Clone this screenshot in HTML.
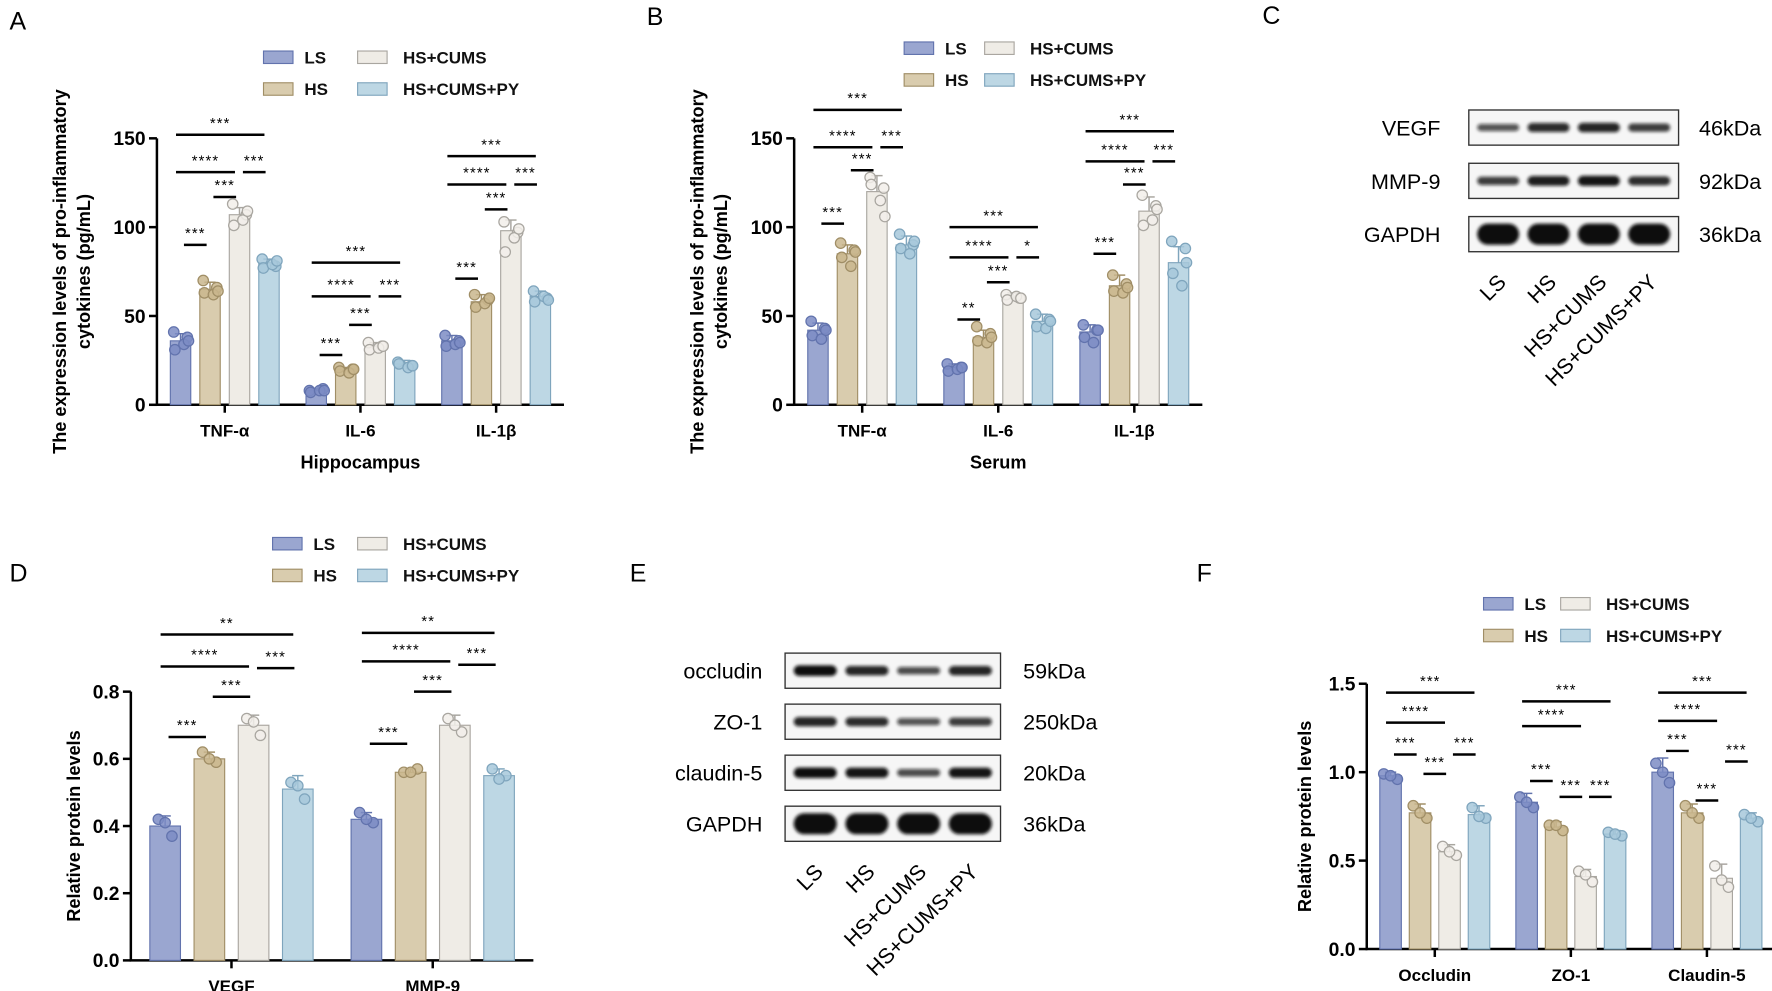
<!DOCTYPE html>
<html><head><meta charset="utf-8">
<style>
html,body{margin:0;padding:0;background:#fff;}
svg{display:block;font-family:"Liberation Sans",Arial,sans-serif;}
</style></head>
<body>
<svg id="fig" width="1772" height="991" viewBox="0 0 1562 874" xmlns="http://www.w3.org/2000/svg">
<defs><filter id="blur" x="-20%" y="-50%" width="140%" height="200%"><feGaussianBlur stdDeviation="1.4"/></filter></defs>
</svg>
<script>
// ---------- data ----------
const groups = ['LS','HS','HS+CUMS','HS+CUMS+PY'];
const catsCyt = ['TNF-α','IL-6','IL-1β'];
const catsProt = ['VEGF','MMP-9'];
const catsTJ = ['Occludin','ZO-1','Claudin-5'];

const aMeans = [[36,65,107,80],[8,20,33,23],[36,58,98,61]];
const aErr   = [[4,4,4,2],[1,1,2,2],[3,4,6,3]];
const aPts   = [[[41,38,31,34,36],[70,66,63,62,64],[113,107,101,104,109],[82,78,77,79,81]],
                [[8,9,7,8,8],[21,20,19,18,20],[35,33,31,32,33],[24,22,23,21,22]],
                [[39,36,33,34,35],[62,59,55,57,60],[103,97,86,94,99],[64,60,58,61,59]]];
const aSig = [[[0,1,90,'***'],[1,2,117,'***'],[0,2,131,'****'],[2,3,131,'***'],[0,3,152,'***']],
              [[0,1,28,'***'],[1,2,45,'***'],[0,2,61,'****'],[2,3,61,'***'],[0,3,80,'***']],
              [[0,1,71,'***'],[1,2,110,'***'],[0,2,124,'****'],[2,3,124,'***'],[0,3,140,'***']]];
const aTicks = [0,50,100,150];

const bMeans = [[42,85,120,90],[21,38,60,47],[41,67,109,80]];
const bErr   = [[4,5,9,5],[2,4,3,4],[4,6,8,9]];
const bPts   = [[[47,43,39,37,42],[91,87,83,78,86],[128,122,124,115,106],[96,90,88,85,92]],
                [[23,21,19,20,21],[44,40,36,35,38],[62,60,59,61,60],[51,48,44,43,47]],
                [[45,42,38,35,42],[73,68,64,63,66],[118,112,101,104,110],[92,88,74,67,80]]];
const bSig = [[[0,1,102,'***'],[1,2,132,'***'],[0,2,145,'****'],[2,3,145,'***'],[0,3,166,'***']],
              [[0,1,48,'**'],[1,2,69,'***'],[0,2,83,'****'],[2,3,83,'*'],[0,3,100,'***']],
              [[0,1,85,'***'],[1,2,124,'***'],[0,2,137,'****'],[2,3,137,'***'],[0,3,154,'***']]];
const bTicks = [0,50,100,150];

const dMeans = [[0.40,0.60,0.70,0.51],[0.42,0.56,0.70,0.55]];
const dErr   = [[0.03,0.02,0.03,0.04],[0.02,0.01,0.03,0.02]];
const dPts   = [[[0.42,0.37,0.41],[0.62,0.59,0.60],[0.72,0.67,0.71]],[[0.44,0.41,0.42],[0.56,0.57,0.56],[0.72,0.68,0.70]]];
const dPts4  = [[0.53,0.48,0.52],[0.57,0.55,0.54]];
const dSig = [[[0,1,0.665,'***'],[1,2,0.785,'***'],[0,2,0.875,'****'],[2,3,0.87,'***'],[0,3,0.97,'**']],
              [[0,1,0.645,'***'],[1,2,0.80,'***'],[0,2,0.89,'****'],[2,3,0.88,'***'],[0,3,0.975,'**']]];
const dTicks = [0.0,0.2,0.4,0.6,0.8];

const fMeans = [[0.98,0.77,0.55,0.76],[0.83,0.69,0.41,0.65],[1.00,0.77,0.40,0.74]];
const fErr   = [[0.02,0.05,0.04,0.05],[0.05,0.03,0.04,0.02],[0.08,0.05,0.08,0.03]];
const fPts   = [[[0.99,0.96,0.98],[0.81,0.74,0.77],[0.58,0.53,0.55]],
                [[0.86,0.80,0.83],[0.70,0.67,0.70],[0.44,0.38,0.42]],
                [[1.05,0.94,1.00],[0.81,0.74,0.77],[0.47,0.35,0.39]]];
const fPts4  = [[0.80,0.74,0.75],[0.66,0.64,0.65],[0.76,0.72,0.74]];
const fSig = [[[0,1,1.10,'***'],[1,2,0.99,'***'],[0,2,1.28,'****'],[2,3,1.10,'***'],[0,3,1.45,'***']],
              [[0,1,0.95,'***'],[1,2,0.86,'***'],[0,2,1.26,'****'],[2,3,0.86,'***'],[0,3,1.40,'***']],
              [[0,1,1.12,'***'],[1,2,0.84,'***'],[0,2,1.29,'****'],[2,3,1.06,'***'],[0,3,1.45,'***']]];
const fTicks = [0.0,0.5,1.0,1.5];

const cBands = [[0.55,0.8,0.85,0.7],[0.7,0.9,0.95,0.8],[1,1,1,1]];
const cRows = ['VEGF','MMP-9','GAPDH'];
const cKda = ['46kDa','92kDa','36kDa'];
const eBands = [[1,0.85,0.6,0.85],[0.85,0.8,0.55,0.7],[1,0.95,0.6,0.95],[1,1,1,1]];
const eRows = ['occludin','ZO-1','claudin-5','GAPDH'];
const eKda = ['59kDa','250kDa','20kDa','36kDa'];

const fills = ['#9aa6d0','#d9ccae','#efece6','#bdd7e4'];
const strokes = ['#6273ad','#a08e66','#a9a6a0','#7fa5bd'];
const ptFill = ['#7d8cc4','#c9b68d','#f2efea','#a7c8da'];

// ---------- helpers ----------
const svg = document.getElementById('fig');
const NS = 'http://www.w3.org/2000/svg';
function el(tag, attrs, parent){ const e=document.createElementNS(NS,tag); for(const k in attrs) e.setAttribute(k,attrs[k]); (parent||svg).appendChild(e); return e; }
function txt(s, attrs, parent){ const t=el('text',attrs,parent); t.textContent=s; return t; }

function panelLetter(s,x,y){
  const t=txt(s,{x:x,y:y,'font-size':22});
  
  
}

function legend(name,x,y,dx,dy){
  const g=el('g',{});
  
  
  groups.forEach((gname,i)=>{
    const col=Math.floor(i/2), row=i%2;
    const lx=x+col*dx, ly=y+row*dy;
    const e=el('g',{},g);
    
    
    el('rect',{x:lx,y:ly-5,width:26,height:11,fill:fills[i],stroke:strokes[i],'stroke-width':1},e);
    txt(gname,{x:lx+(col?40:36),y:ly+6,'font-size':15,'font-weight':'bold',fill:'#111'},e);
  });
}

function barChart(o){
  const g=el('g',{});
  
  
  const yMax=o.ticks[o.ticks.length-1];
  const ys=v=>o.y0-(v/yMax)*(o.y0-o.yTop);
  const gw=(o.x1-o.x0)/o.cats.length;
  const gc=i=>o.x0+gw*(i+0.5);
  const bx=(i,j)=>gc(i)+(j-1.5)*o.sp;
  const ax=el('g',{},g);  
  el('line',{x1:o.x0,y1:o.y0+1,x2:o.x0,y2:o.yTop,stroke:'#000','stroke-width':2.2},ax);
  o.ticks.forEach(t=>{
    el('line',{x1:o.x0-7,y1:ys(t),x2:o.x0,y2:ys(t),stroke:'#000','stroke-width':2.2},ax);
    const tl=txt(o.fmt(t),{x:o.x0-10,y:ys(t)+6,'text-anchor':'end','font-size':17,'font-weight':'bold'},ax);
     
  });
  const xa=el('g',{},g);  
  el('line',{x1:o.x0-1,y1:o.y0,x2:o.x1,y2:o.y0,stroke:'#000','stroke-width':2.2},xa);
  o.cats.forEach((c,i)=>{
    el('line',{x1:gc(i),y1:o.y0,x2:gc(i),y2:o.y0+7,stroke:'#000','stroke-width':2.2},xa);
    const cl=txt(c,{x:gc(i),y:o.y0+28,'text-anchor':'middle','font-size':15,'font-weight':'bold'},xa);
     
  });
  o.cats.forEach((c,i)=>{
    for(let j=0;j<4;j++){
      const m=o.means[i][j], x=bx(i,j);
      const b=el('rect',{x:x-o.bw/2,y:ys(m),width:o.bw,height:o.y0-ys(m),fill:fills[j],stroke:strokes[j],'stroke-width':1},g);
      
      
      const e=o.err[i][j];
      el('line',{x1:x,y1:ys(m),x2:x,y2:ys(m+e),stroke:strokes[j],'stroke-width':1.3},g);
      el('line',{x1:x-5,y1:ys(m+e),x2:x+5,y2:ys(m+e),stroke:strokes[j],'stroke-width':1.3},g);
      const pts=o.pts(i,j);
      const offs=pts.length===5?[-6,6,-5,3,7]:[-6,6,0];
      pts.forEach((p,k)=>{
        const pt=el('circle',{cx:x+offs[k],cy:ys(p),r:4.6,fill:ptFill[j],stroke:strokes[j],'stroke-width':1.1,'fill-opacity':0.85},g);
         
      });
    }
    o.sig[i].forEach(s=>{
      const xa1=bx(i,s[0])-(s[1]-s[0]>1?4:-3), xa2=bx(i,s[1])+(s[1]-s[0]>1?-4:-3);
      const sg=el('g',{},g);  
      el('line',{x1:xa1,y1:ys(s[2]),x2:xa2,y2:ys(s[2]),stroke:'#000','stroke-width':2.2},sg);
      txt(s[3],{x:(xa1+xa2)/2,y:ys(s[2])-6,'text-anchor':'middle','font-size':13,'letter-spacing':'1'},sg);
    });
  });
  if(o.ytitle){
    const yt=el('text',{transform:`translate(${o.ytx},${(o.y0+o.yTop)/2}) rotate(-90)`,'text-anchor':'middle','font-size':16,'font-weight':'bold'},g);
     
    o.ytitle.forEach((l,k)=>{ const ts=el('tspan',{x:0,dy:k?21:0},yt); ts.textContent=l; });
  }
  if(o.xtitle){
    const xt=txt(o.xtitle,{x:(o.x0+o.x1)/2,y:o.y0+56,'text-anchor':'middle','font-size':16,'font-weight':'bold'},g);
     
  }
}

function blot(name,x,y0,w,h,gap,rows,kda,bands,labelX,kdaX){
  const g=el('g',{});
  
  
  rows.forEach((r,i)=>{
    const y=y0+i*(h+gap);
    const rl=txt(r,{x:labelX,y:y+h/2+7,'text-anchor':'end','font-size':19},g);
     
    el('rect',{x:x,y:y,width:w,height:h,fill:'#f6f6f6',stroke:'#333','stroke-width':1.2},g);
    bands[i].forEach((b,j)=>{
      const cx=x+w*(0.14+j*0.24);
      const bh=(r==='GAPDH'?h*0.6:h*(0.08+0.22*b));
      el('rect',{x:cx-w*0.1,y:y+h/2-bh/2,width:w*0.2,height:bh,rx:bh/2,fill:'#111','fill-opacity':0.35+0.65*b,filter:'url(#blur)'},g);
    });
    const kl=txt(kda[i],{x:kdaX,y:y+h/2+7,'font-size':19},g);
     
  });
  const n=rows.length, yb=y0+n*(h+gap)-gap;
  groups.forEach((gname,j)=>{
    const cx=x+w*(0.14+j*0.24)+8;
    const t=txt(gname,{x:cx,y:yb+28,'text-anchor':'end','font-size':19,transform:`rotate(-45 ${cx} ${yb+28})`},g);
     
  });
}

// ---------- draw ----------
panelLetter('A',8,26); panelLetter('B',570,22); panelLetter('C',1113,21);
panelLetter('D',8,513); panelLetter('E',555,513); panelLetter('F',1055,513);

legend('legend-a',232,50,83,28);
legend('legend-b',797,42,71,28);
legend('legend-d',240,479,75,28);
legend('legend-f',1308,532,68,28);

const cytTitle=['The expression levels of pro-inflammatory','cytokines (pg/mL)'];
barChart({name:'chart-a-hippocampus',x0:138,x1:497,y0:357,yTop:122,ticks:aTicks,fmt:v=>String(v),cats:catsCyt,means:aMeans,err:aErr,pts:(i,j)=>aPts[i][j],sig:aSig,sp:26,bw:18,ytitle:cytTitle,ytx:58,xtitle:'Hippocampus'});
barChart({name:'chart-b-serum',x0:700,x1:1060,y0:357,yTop:122,ticks:bTicks,fmt:v=>String(v),cats:catsCyt,means:bMeans,err:bErr,pts:(i,j)=>bPts[i][j],sig:bSig,sp:26,bw:18,ytitle:cytTitle,ytx:620,xtitle:'Serum'});
barChart({name:'chart-d-vegf-mmp9',x0:115,x1:470,y0:847,yTop:610,ticks:dTicks,fmt:v=>v.toFixed(1),cats:catsProt,means:dMeans,err:dErr,pts:(i,j)=>j<3?dPts[i][j]:dPts4[i],sig:dSig,sp:39,bw:27,ytitle:['Relative protein levels'],ytx:70});
barChart({name:'chart-f-tight-junctions',x0:1205,x1:1565,y0:837,yTop:603,ticks:fTicks,fmt:v=>v.toFixed(1),cats:catsTJ,means:fMeans,err:fErr,pts:(i,j)=>j<3?fPts[i][j]:fPts4[i],sig:fSig,sp:26,bw:19,ytitle:['Relative protein levels'],ytx:1156});

blot('western-blot-c',1295,97,185,31,16,cRows,cKda,cBands,1270,1498);
blot('western-blot-e',692,576,190,31,14,eRows,eKda,eBands,672,902);
</script>
</body></html>
